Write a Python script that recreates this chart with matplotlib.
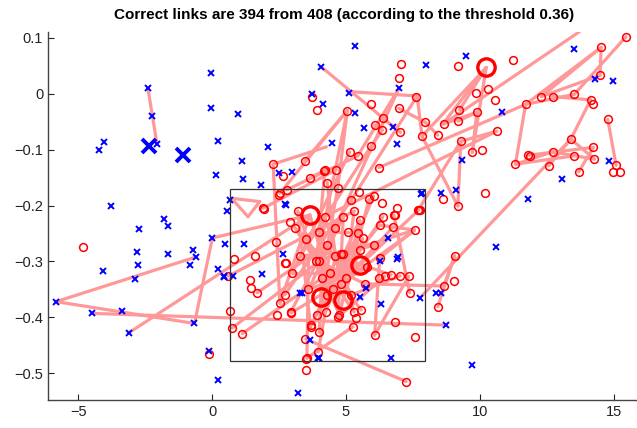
import matplotlib
matplotlib.use("Agg")
import matplotlib.pyplot as plt
import matplotlib.patches as mpatches

plt.rcParams['font.family'] = ['Liberation Sans', 'DejaVu Sans']

# unmatched / blue points
cross_x = [-2.40, -2.24, -2.06, -4.22, -4.04, -3.77, -0.06, -0.05, 0.98, 0.21, 1.11, 0.14, 1.15, 2.08,
           1.83, 2.97, 2.48, 2.72, 3.72, 4.08, -1.80, -1.64, -2.72, -2.80, -1.66, -2.76, -4.08, -2.88,
           -0.73, -0.60, -0.81, 0.01, 0.49, 0.21, 0.45, 0.78, 1.18, 1.85, -5.83, -4.50, -3.37, -3.12,
           -0.66, -0.12, 0.21, 3.22, 0.66, 0.56, 2.75, 2.63, 3.35, 3.94, 5.35, 7.99, 9.47, 13.51, 14.99,
           6.98, 4.14, 5.10, 5.32, 5.66, 6.75, 6.89, 10.84, 9.34, 13.06, 14.83, 11.81, 7.84, 8.54, 9.12,
           14.32, 6.57, 6.94, 7.81, 6.32, 6.92, 7.75, 8.37, 8.56, 10.61, 9.72, 8.75, 6.69, 3.99, 6.26,
           5.76, 5.51, 3.27, 3.65, 0.44, 4.46]
cross_y = [0.010, -0.040, -0.090, -0.101, -0.086, -0.201, 0.038, -0.025, -0.037, -0.085, -0.120, -0.145,
           -0.152, -0.095, -0.163, -0.140, -0.142, -0.197, 0.000, 0.048, -0.224, -0.237, -0.242, -0.284,
           -0.287, -0.306, -0.317, -0.332, -0.279, -0.292, -0.306, -0.258, -0.268, -0.314, -0.328, -0.326,
           -0.268, -0.323, -0.372, -0.393, -0.388, -0.428, -0.411, -0.460, -0.512, -0.535, -0.190, -0.210,
           -0.199, -0.286, -0.357, -0.472, 0.085, 0.051, 0.067, 0.080, 0.023, 0.010, -0.019, 0.001, -0.035,
           -0.061, -0.059, -0.090, -0.032, -0.119, -0.153, -0.121, -0.189, -0.177, -0.177, -0.172, 0.026,
           -0.259, -0.293, -0.179, -0.376, -0.296, -0.366, -0.356, -0.356, -0.275, -0.485, -0.414, -0.472,
           -0.472, -0.300, -0.348, -0.363, -0.356, -0.440, -0.327, -0.088]

big_cross_x = [-2.36, -1.10]
big_cross_y = [-0.094, -0.109]

# matched / red points
circ_x = [-4.84, -0.12, 1.94, 0.81, 0.61, 1.59, 1.41, 1.46, 1.68, 0.66, 0.75, 1.13, 2.44, 2.95, 2.74,
          2.39, 3.47, 3.52, 3.50, 3.74, 3.92, 7.05, 6.97, 9.17, 11.25, 14.53, 15.46, 14.49, 7.63, 5.92,
          5.05, 6.97, 9.85, 10.31, 10.55, 9.24, 9.89, 8.65, 9.19, 7.96, 7.84, 8.43, 7.03, 6.07, 6.36, 6.37,
          10.63, 10.09, 9.72, 9.29, 11.71, 12.30, 12.72, 13.53, 14.14, 14.22, 14.78, 13.40, 12.72, 11.79,
          11.87, 11.33, 12.57, 13.69, 14.24, 14.28, 15.09, 14.99, 15.24, 13.53, 10.21, 6.23, 9.18, 8.62,
          7.70, 4.18, 4.64, 4.69, 3.46, 3.67, 5.14, 5.45, 5.95, 5.86, 6.03, 6.38, 6.79, 2.28, 2.65, 2.53,
          2.78, 1.90, 4.21, 4.30, 2.50, 5.51, 6.26, 6.75, 7.56, 5.07, 5.45, 5.63, 6.06, 5.51, 4.89, 6.26,
          6.23, 6.44, 6.69, 7.02, 7.34, 7.38, 9.06, 9.02, 8.65, 8.43, 6.85, 6.07, 7.56, 7.25, 3.96, 4.00,
          3.71, 5.26, 5.39, 5.57, 4.74, 4.24, 3.90, 4.83, 3.99, 3.87, 2.71, 2.53, 2.75, 3.68, 3.54, 4.00,
          4.10, 4.40, 4.60, 4.30, 3.50, 3.30, 3.10, 3.00, 4.50, 5.00, 5.20, 4.80, 5.70, 5.30, 4.30, 3.60,
          4.70, 5.80, 4.60, 4.90, 5.30, 4.20, 3.20, 2.90, 5.20, 5.50, 6.35, 6.90, 2.93, 7.72, 6.82, 7.75]
circ_y = [-0.274, -0.465, -0.206, -0.296, -0.326, -0.290, -0.333, -0.347, -0.356, -0.389, -0.419, -0.429,
          -0.395, -0.392, -0.302, -0.265, -0.439, -0.475, -0.495, -0.005, -0.029, 0.053, 0.029, 0.050,
          0.061, 0.083, 0.102, 0.033, -0.005, -0.018, -0.030, -0.026, 0.002, 0.008, -0.011, -0.029,
          -0.033, -0.054, -0.049, -0.051, -0.076, -0.074, -0.069, -0.056, -0.065, -0.044, -0.067, -0.101,
          -0.105, -0.085, -0.019, -0.005, -0.005, -0.001, -0.011, -0.018, -0.046, -0.081, -0.104, -0.110,
          -0.112, -0.126, -0.129, -0.140, -0.096, -0.117, -0.128, -0.140, -0.140, -0.111, -0.178, -0.132,
          -0.201, -0.189, -0.208, -0.138, -0.136, -0.169, -0.120, -0.150, -0.104, -0.111, -0.093, -0.189,
          -0.183, -0.220, -0.217, -0.126, -0.148, -0.178, -0.172, -0.205, -0.137, -0.159, -0.182, -0.226,
          -0.235, -0.239, -0.244, -0.247, -0.250, -0.259, -0.271, -0.280, -0.286, -0.294, -0.329, -0.327,
          -0.324, -0.326, -0.327, -0.356, -0.290, -0.335, -0.344, -0.381, -0.409, -0.432, -0.436, -0.515,
          -0.462, -0.427, -0.414, -0.417, -0.402, -0.387, -0.396, -0.390, -0.396, -0.286, -0.247, -0.300,
          -0.360, -0.375, -0.303, -0.418, -0.473, -0.300, -0.330, -0.320, -0.290, -0.270, -0.260, -0.290,
          -0.240, -0.320, -0.350, -0.330, -0.360, -0.340, -0.340, -0.390, -0.360, -0.350, -0.400, -0.310,
          -0.240, -0.220, -0.210, -0.220, -0.210, -0.230, -0.190, -0.175, -0.195, -0.205, -0.391, -0.208,
          -0.217, -0.208]

big_circ_x = [10.24, 3.65, 5.51, 4.08, 4.89]
big_circ_y = [0.047, -0.217, -0.306, -0.363, -0.369]

# links between points (x0, y0, x1, y1)
links = [
    (-2.40, 0.010, -2.06, -0.090), (-5.83, -0.372, -0.60, -0.292), (-5.83, -0.372, -0.66, -0.411),
    (-4.50, -0.393, 8.75, -0.414), (-3.12, -0.428, 3.65, -0.217), (-0.66, -0.411, 0.01, -0.258),
    (0.01, -0.258, 3.65, -0.217), (0.61, -0.326, 5.30, -0.210), (1.68, -0.356, 4.30, -0.270),
    (0.75, -0.419, 4.00, -0.300), (1.13, -0.429, 4.40, -0.320), (0.72, -0.187, 1.78, -0.193),
    (0.72, -0.187, 1.34, -0.220), (1.34, -0.220, 1.78, -0.193), (2.28, -0.126, 2.53, -0.375),
    (2.28, -0.126, 4.27, -0.095), (5.05, -0.030, 2.53, -0.178), (5.05, -0.030, 3.46, -0.120),
    (5.05, -0.030, 4.69, -0.169), (5.05, -0.030, 3.90, -0.300), (1.90, -0.205, 4.64, -0.136),
    (2.78, -0.172, 5.45, -0.111), (3.67, -0.150, 4.21, -0.137), (4.08, 0.048, 7.03, -0.069),
    (5.08, 0.004, 7.66, -0.004), (6.98, 0.010, 5.45, -0.110), (6.98, 0.010, 4.30, -0.270),
    (7.66, -0.004, 5.20, -0.190), (7.66, -0.004, 7.84, -0.076), (6.37, -0.044, 7.03, -0.069),
    (6.07, -0.056, 6.36, -0.065), (5.95, -0.093, 6.36, -0.065), (5.95, -0.093, 3.30, -0.290),
    (5.14, -0.104, 3.00, -0.320), (6.97, -0.026, 7.96, -0.051), (7.96, -0.051, 8.43, -0.074),
    (6.23, -0.132, 11.71, -0.019), (7.84, -0.076, 9.18, -0.201), (7.84, -0.076, 10.24, 0.047),
    (10.24, 0.047, 9.24, -0.029), (10.24, 0.047, 9.72, -0.105), (10.24, 0.047, 8.62, -0.054),
    (13.72, 0.111, 8.65, -0.054), (8.65, -0.054, 9.89, -0.033), (9.89, -0.033, 9.72, -0.105),
    (9.19, -0.049, 9.89, -0.033), (9.29, -0.085, 10.63, -0.067), (10.63, -0.067, 4.20, -0.220),
    (9.29, -0.085, 7.70, -0.208), (9.18, -0.201, 9.29, -0.085), (11.71, -0.019, 14.53, 0.083),
    (12.30, -0.005, 14.53, 0.083), (14.53, 0.083, 14.49, 0.033), (11.71, -0.019, 13.53, -0.001),
    (12.30, -0.005, 14.49, 0.033), (13.53, -0.001, 15.46, 0.102), (12.72, -0.005, 14.14, -0.011),
    (11.71, -0.019, 11.33, -0.126), (11.33, -0.126, 12.72, -0.104), (11.33, -0.126, 13.53, -0.111),
    (11.79, -0.110, 14.24, -0.096), (12.57, -0.129, 13.40, -0.081), (13.40, -0.081, 14.28, -0.117),
    (13.69, -0.140, 14.24, -0.096), (14.14, -0.011, 13.40, -0.081), (13.40, -0.081, 7.75, -0.366),
    (14.78, -0.046, 15.09, -0.128), (12.72, -0.104, 14.28, -0.117), (9.06, -0.290, 8.65, -0.344),
    (9.06, -0.290, 8.43, -0.381), (7.56, -0.244, 6.26, -0.235), (6.79, -0.217, 7.38, -0.356),
    (6.07, -0.432, 7.34, -0.327), (3.50, -0.439, 7.25, -0.515), (3.54, -0.473, 5.26, -0.417),
    (7.72, -0.208, 5.00, -0.330), (7.56, -0.244, 6.26, -0.294), (3.90, -0.396, 6.38, -0.220),
    (4.24, -0.390, 6.03, -0.183), (4.74, -0.396, 5.86, -0.189), (3.71, -0.414, 5.51, -0.226),
    (4.00, -0.427, 4.20, -0.220), (3.68, -0.418, 3.20, -0.210), (4.50, -0.350, 7.56, -0.244),
    (5.00, -0.330, 6.75, -0.239), (4.30, -0.360, 5.45, -0.250), (3.60, -0.350, 4.90, -0.220),
    (4.08, -0.363, 6.26, -0.235), (4.89, -0.369, 5.63, -0.259), (5.20, -0.360, 7.02, -0.326),
    (4.70, -0.400, 6.44, -0.327), (5.30, -0.390, 3.10, -0.240), (5.57, -0.387, 3.50, -0.260),
    (3.54, -0.473, 3.60, -0.300), (3.96, -0.462, 4.60, -0.290), (2.71, -0.360, 5.20, -0.190),
    (2.93, -0.391, 4.60, -0.240), (2.53, -0.375, 3.65, -0.217), (2.95, -0.392, 5.80, -0.310),
    (5.70, -0.340, 8.65, -0.344), (4.83, -0.286, 6.06, -0.271), (3.87, -0.300, 7.56, -0.244),
    (4.60, -0.290, 6.69, -0.324), (3.30, -0.290, 5.51, -0.280), (4.10, -0.330, 5.51, -0.306),
    (4.40, -0.320, 3.00, -0.320), (3.99, -0.247, 5.07, -0.247), (6.26, -0.294, 6.07, -0.432),
    (3.50, -0.260, 4.80, -0.400), (3.10, -0.240, 4.50, -0.350), (4.20, -0.220, 5.30, -0.390),
    (4.90, -0.220, 4.70, -0.400), (5.30, -0.210, 5.00, -0.330), (4.60, -0.240, 4.08, -0.363),
    (3.20, -0.210, 4.30, -0.360), (5.51, -0.226, 4.89, -0.369), (4.30, -0.270, 5.20, -0.360),
    (3.65, -0.217, 4.50, -0.350), (4.00, -0.300, 5.70, -0.340), (3.60, -0.350, 5.80, -0.310),
    (4.30, -0.159, 4.60, -0.290), (4.69, -0.169, 4.10, -0.330), (4.21, -0.137, 3.90, -0.300),
]

fig = plt.figure(figsize=(6.37, 4.28), dpi=100)
ax = fig.add_axes([0.0754, 0.0654, 0.93, 0.8605])

for x0, y0, x1, y1 in links:
    ax.plot([x0, x1], [y0, y1], color='#ff9999', lw=2.3, solid_capstyle='round', zorder=2)

ax.plot(circ_x, circ_y, 'o', mfc='none', mec='red', ms=5.6, mew=1.1, zorder=3)
ax.plot(big_circ_x, big_circ_y, 'o', mfc='none', mec='red', ms=12.5, mew=2.4, zorder=3)
ax.plot(cross_x, cross_y, 'x', color='blue', ms=4.0, mew=1.4, zorder=4)
ax.plot(big_cross_x, big_cross_y, 'x', color='blue', ms=9.5, mew=2.8, zorder=4)

# selection window
ax.add_patch(mpatches.Rectangle((0.66, -0.478), 7.28, 0.308, fill=False,
                                edgecolor='#333333', lw=0.9, zorder=5))

ax.set_xlim(-6.13, 16.0)
ax.set_ylim(-0.548, 0.111)
ax.set_xticks([-5, 0, 5, 10, 15])
ax.set_yticks([0.1, 0, -0.1, -0.2, -0.3, -0.4, -0.5])
ax.set_yticklabels(['0.1', '0', '\u22120.1', '\u22120.2', '\u22120.3', '\u22120.4', '\u22120.5'])
ax.set_xticklabels(['\u22125', '0', '5', '10', '15'])
ax.tick_params(direction='in', length=4, width=0.8, labelsize=10.5, colors='#222222')
for s in ['top', 'right']:
    ax.spines[s].set_visible(False)
for s in ['left', 'bottom']:
    ax.spines[s].set_color('#444444')
    ax.spines[s].set_linewidth(1.0)

ax.set_title('Correct links are 394 from 408 (according to the threshold 0.36)',
             fontsize=11, fontweight='bold', pad=9)

fig.savefig('out.png', dpi=100)
